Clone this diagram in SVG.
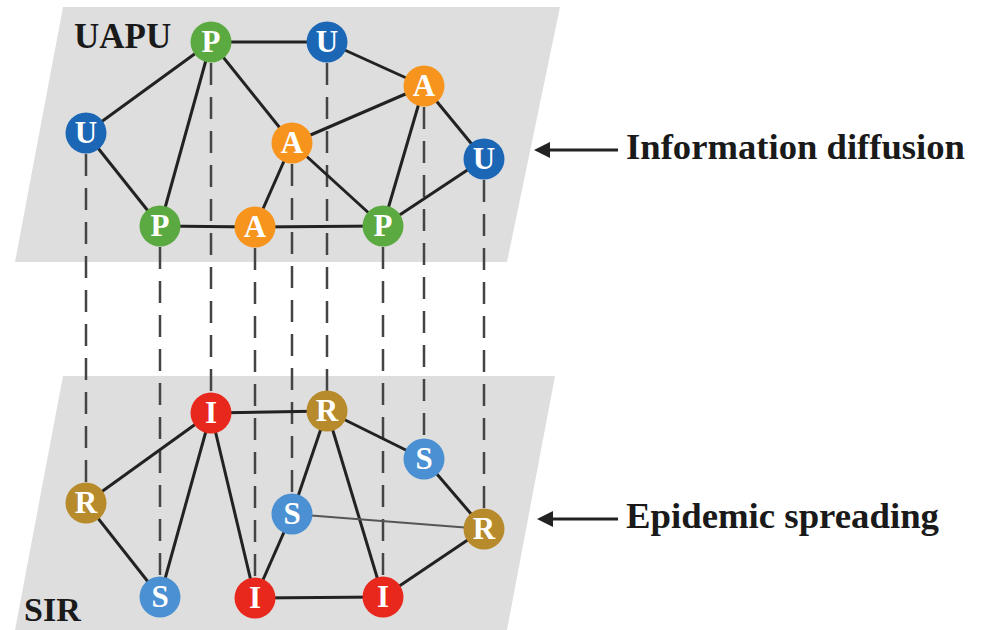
<svg xmlns="http://www.w3.org/2000/svg" width="982" height="630" viewBox="0 0 982 630">
<defs>
<style>
.plane{fill:#dedede}
.e{stroke:#222;stroke-width:3;fill:none}
.eg{stroke:#555;stroke-width:2;fill:none}
.d{stroke:#444;stroke-width:2.5;stroke-dasharray:22 12;fill:none}
.n text{font-family:"Liberation Serif","Times New Roman",serif;font-weight:bold;font-size:31px;fill:#fff;text-anchor:middle}
.lbl{font-family:"Liberation Serif","Times New Roman",serif;font-weight:bold;fill:#1a1a1a}
.P{fill:#5ba941}.U{fill:#1b66b5}.A{fill:#f7941d}.I{fill:#e8281c}.R{fill:#b78a2b}.S{fill:#4a90d2}
.arr{stroke:#222;stroke-width:3}
</style>
<marker id="ah" viewBox="0 0 10 10" refX="0" refY="5" markerWidth="20" markerHeight="16" orient="auto-start-reverse" markerUnits="userSpaceOnUse">
<path d="M0,0 L10,5 L0,10 z" fill="#222"/>
</marker>
</defs>
<polygon class="plane" points="63,7 560,7 507,262 15,262"/>
<polygon class="plane" points="63,376 555,376 507,630 15,630"/>
<text class="lbl" x="74" y="48" font-size="35">UAPU</text>
<text class="lbl" x="24" y="621" font-size="34">SIR</text>
<g id="connectors">
<g id="interlayer">
<line class="d" x1="86" y1="154" x2="86" y2="482"/>
<line class="d" x1="160" y1="247" x2="160" y2="576"/>
<line class="d" x1="211" y1="63" x2="211" y2="392"/>
<line class="d" x1="255" y1="248" x2="255" y2="576"/>
<line class="d" x1="292" y1="164" x2="292" y2="493"/>
<line class="d" x1="327" y1="63" x2="327" y2="391"/>
<line class="d" x1="383" y1="247" x2="383" y2="576"/>
<line class="d" x1="424" y1="107" x2="424" y2="438"/>
<line class="d" x1="484" y1="180" x2="484" y2="508"/>
</g>
<g id="top-edges">
<line class="e" x1="211" y1="42" x2="327" y2="42"/>
<line class="e" x1="327" y1="42" x2="424" y2="86"/>
<line class="e" x1="211" y1="42" x2="86" y2="133"/>
<line class="e" x1="211" y1="42" x2="160" y2="226"/>
<line class="e" x1="211" y1="42" x2="292" y2="143"/>
<line class="e" x1="86" y1="133" x2="160" y2="226"/>
<line class="e" x1="292" y1="143" x2="424" y2="86"/>
<line class="e" x1="292" y1="143" x2="255" y2="227"/>
<line class="e" x1="292" y1="143" x2="383" y2="226"/>
<line class="e" x1="424" y1="86" x2="383" y2="226"/>
<line class="e" x1="424" y1="86" x2="484" y2="159"/>
<line class="e" x1="484" y1="159" x2="383" y2="226"/>
<line class="e" x1="160" y1="226" x2="255" y2="227"/>
<line class="e" x1="255" y1="227" x2="383" y2="226"/>
</g>
<g id="bottom-edges">
<line class="e" x1="211" y1="413" x2="327" y2="411"/>
<line class="e" x1="327" y1="411" x2="424" y2="459"/>
<line class="e" x1="211" y1="413" x2="86" y2="503"/>
<line class="e" x1="211" y1="413" x2="160" y2="597"/>
<line class="e" x1="211" y1="413" x2="255" y2="598"/>
<line class="e" x1="86" y1="503" x2="160" y2="597"/>
<line class="e" x1="327" y1="411" x2="292" y2="514"/>
<line class="e" x1="327" y1="411" x2="383" y2="597"/>
<line class="e" x1="292" y1="514" x2="255" y2="598"/>
<line class="eg" x1="292" y1="514" x2="484" y2="529"/>
<line class="e" x1="424" y1="459" x2="484" y2="529"/>
<line class="e" x1="484" y1="529" x2="383" y2="597"/>
<line class="e" x1="255" y1="598" x2="383" y2="597"/>
</g>
<g id="arrows">
<line class="arr" x1="618" y1="150" x2="550" y2="150" marker-end="url(#ah)"/>
<line class="arr" x1="618" y1="519" x2="553" y2="519" marker-end="url(#ah)"/>
</g>
</g>
<g id="n-u1" class="n"><circle class="U" cx="86" cy="133" r="20.5"/><text x="86" y="143">U</text></g>
<g id="n-p1" class="n"><circle class="P" cx="211" cy="42" r="20.5"/><text x="211" y="52">P</text></g>
<g id="n-u2" class="n"><circle class="U" cx="327" cy="42" r="20.5"/><text x="327" y="52">U</text></g>
<g id="n-a1" class="n"><circle class="A" cx="424" cy="86" r="20.5"/><text x="424" y="96">A</text></g>
<g id="n-a2" class="n"><circle class="A" cx="292" cy="143" r="20.5"/><text x="292" y="153">A</text></g>
<g id="n-u3" class="n"><circle class="U" cx="484" cy="159" r="20.5"/><text x="484" y="169">U</text></g>
<g id="n-p2" class="n"><circle class="P" cx="160" cy="226" r="20.5"/><text x="160" y="236">P</text></g>
<g id="n-a3" class="n"><circle class="A" cx="255" cy="227" r="20.5"/><text x="255" y="237">A</text></g>
<g id="n-p3" class="n"><circle class="P" cx="383" cy="226" r="20.5"/><text x="383" y="236">P</text></g>
<g id="n-i1" class="n"><circle class="I" cx="211" cy="413" r="20.5"/><text x="211" y="423">I</text></g>
<g id="n-r1" class="n"><circle class="R" cx="327" cy="411" r="20.5"/><text x="327" y="421">R</text></g>
<g id="n-s1" class="n"><circle class="S" cx="424" cy="459" r="20.5"/><text x="424" y="469">S</text></g>
<g id="n-r2" class="n"><circle class="R" cx="86" cy="503" r="20.5"/><text x="86" y="513">R</text></g>
<g id="n-s2" class="n"><circle class="S" cx="292" cy="514" r="20.5"/><text x="292" y="524">S</text></g>
<g id="n-r3" class="n"><circle class="R" cx="484" cy="529" r="20.5"/><text x="484" y="539">R</text></g>
<g id="n-s3" class="n"><circle class="S" cx="160" cy="597" r="20.5"/><text x="160" y="607">S</text></g>
<g id="n-i2" class="n"><circle class="I" cx="255" cy="598" r="20.5"/><text x="255" y="608">I</text></g>
<g id="n-i3" class="n"><circle class="I" cx="383" cy="597" r="20.5"/><text x="383" y="607">I</text></g>
<text class="lbl" x="626" y="159" font-size="36" textLength="339" lengthAdjust="spacingAndGlyphs">Information diffusion</text>
<text class="lbl" x="626" y="528" font-size="36" textLength="313" lengthAdjust="spacingAndGlyphs">Epidemic spreading</text>
</svg>
